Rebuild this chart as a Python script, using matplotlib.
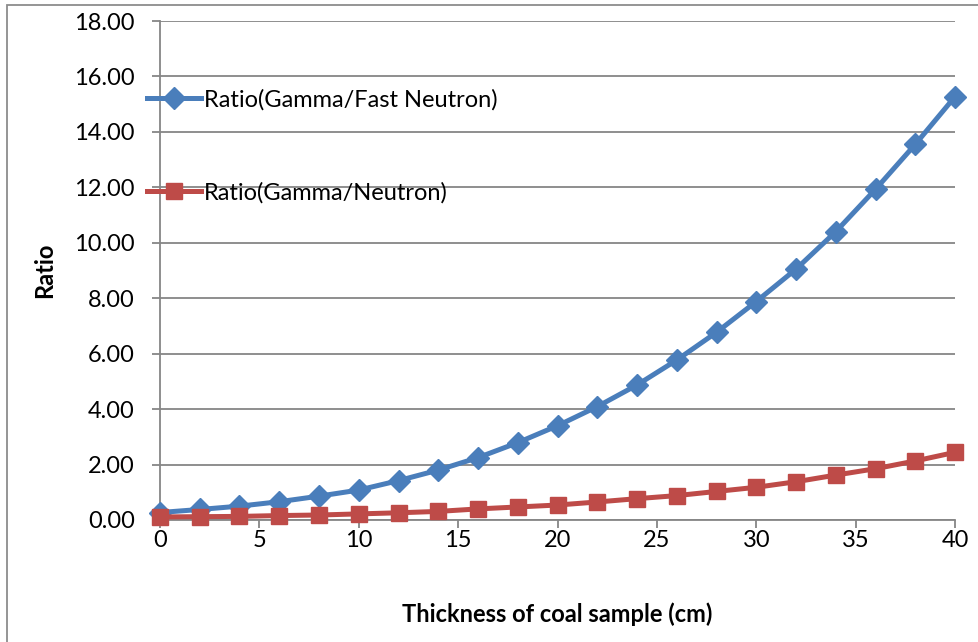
import numpy as np
import matplotlib.pyplot as plt
from matplotlib.patches import Rectangle

plt.rcParams['font.family'] = ['Lato', 'DejaVu Sans']

thickness = [0, 2, 4, 6, 8, 10, 12, 14, 16, 18, 20, 22, 24, 26, 28, 30, 32, 34, 36, 38, 40]
gamma_fast = [0.27, 0.38, 0.50, 0.66, 0.86, 1.08, 1.42, 1.80, 2.25, 2.79, 3.40, 4.09, 4.87,
              5.77, 6.77, 7.88, 9.05, 10.40, 11.93, 13.55, 15.27]
gamma_neutron = [0.11, 0.12, 0.13, 0.16, 0.18, 0.22, 0.26, 0.31, 0.40, 0.47, 0.54, 0.65, 0.77,
                 0.88, 1.03, 1.18, 1.38, 1.62, 1.85, 2.13, 2.44]
y_ticks = np.arange(0, 20, 2)
x_ticks = np.arange(0, 45, 5)

W, H = 979, 642
fig = plt.figure(figsize=(W / 100, H / 100), dpi=100)
ax = fig.add_axes([160 / W, 1 - 520 / H, 795 / W, 499 / H])

fs = 17
grid_col = '#868686'
ax.plot(thickness, gamma_fast, color='#4A7EBB', lw=3.6, marker='D', ms=11,
        label='Ratio(Gamma/Fast Neutron)', clip_on=False, zorder=3)
ax.plot(thickness, gamma_neutron, color='#BE4B48', lw=3.6, marker='s', ms=12,
        label='Ratio(Gamma/Neutron)', clip_on=False, zorder=4)

ax.set_xlim(0, 40)
ax.set_ylim(0, 18)
ax.set_xticks(x_ticks)
ax.set_yticks(y_ticks)
ax.set_yticklabels([f'{v:.2f}' for v in y_ticks])
ax.yaxis.grid(True, color=grid_col, lw=1.3)
ax.set_axisbelow(True)
for s in ['top', 'right']:
    ax.spines[s].set_visible(False)
for s in ['left', 'bottom']:
    ax.spines[s].set_color(grid_col)
    ax.spines[s].set_linewidth(1.3)
ax.tick_params(axis='both', colors=grid_col, length=6, width=1.3, labelsize=fs,
               labelcolor='black')
ax.tick_params(axis='x', pad=1)
ax.tick_params(axis='y', pad=12)

ax.set_xlabel('Thickness of coal sample (cm)', fontsize=fs, fontweight='bold', labelpad=37)
fig.text(45 / W, 1 - 270 / H, 'Ratio', fontsize=fs, fontweight='bold', rotation=90,
         ha='center', va='center')

fig.legend(loc='upper left', bbox_to_anchor=(147 / W, 1 - 89 / H), frameon=False,
           fontsize=fs, handlelength=2.3, handletextpad=0.13, labelspacing=3.03,
           borderaxespad=0, borderpad=0)

fig.patches.append(Rectangle((7 / W, -0.1), 1.1, (H - 5) / H + 0.1, transform=fig.transFigure,
                             fill=False, edgecolor='#8c8c8c', lw=1.3))

fig.savefig('out.png', dpi=100)
